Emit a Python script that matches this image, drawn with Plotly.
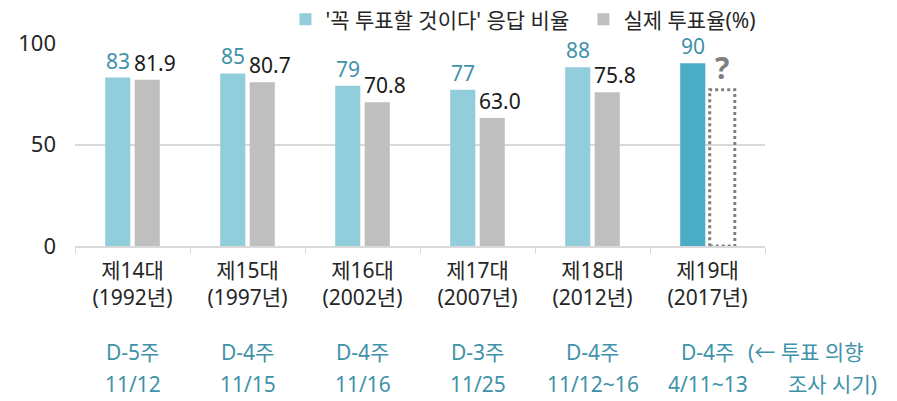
import plotly.graph_objects as go

# Data
elections = ["제14대<br>(1992년)", "제15대<br>(1997년)", "제16대<br>(2002년)",
             "제17대<br>(2007년)", "제18대<br>(2012년)", "제19대<br>(2017년)"]
survey_week = ["D-5주", "D-4주", "D-4주", "D-3주", "D-4주", "D-4주"]
survey_date = ["11/12", "11/15", "11/16", "11/25", "11/12~16", "4/11~13"]
will_vote = [83, 85, 79, 77, 88, 90]
turnout = [81.9, 80.7, 70.8, 63.0, 75.8, None]
turnout_placeholder = 77  # dotted "?" bar for 19대

BLUE = "#92CDDC"
BLUE_DARK = "#4BACC6"
GRAY = "#BFBFBF"
TEAL = "#3F92A9"
FONT = "Noto Sans, Noto Sans CJK KR"

BARGAP = 0.487
GROUPGAP = 0.15

fig = go.Figure()
fig.add_trace(go.Bar(
    x=elections, y=will_vote, name="'꼭 투표할 것이다' 응답 비율",
    marker=dict(color=[BLUE] * 5 + [BLUE_DARK], line_width=0),
))
fig.add_trace(go.Bar(
    x=elections, y=turnout, name="실제 투표율(%)",
    marker=dict(color=GRAY, line_width=0),
))

# bar geometry in category units
slot = (1 - BARGAP) / 2
bar_w = slot * (1 - GROUPGAP)

annotations = []
for i, v in enumerate(will_vote):
    annotations.append(dict(
        x=i - slot / 2, y=v, xref="x", yref="y", text=str(v),
        showarrow=False, yanchor="bottom", yshift=1,
        font=dict(color=TEAL, size=21, family=FONT)))
for i, v in enumerate(turnout):
    if v is None:
        continue
    annotations.append(dict(
        x=i + slot / 2 - bar_w / 2, y=v, xref="x", yref="y", text=f"{v:.1f}",
        showarrow=False, xanchor="left", yanchor="bottom", yshift=1, xshift=-3,
        font=dict(color="#1a1a1a", size=21, family=FONT)))

# survey timing labels under the axis
for i, (w, d) in enumerate(zip(survey_week, survey_date)):
    annotations.append(dict(
        x=i, y=-0.522, xref="x", yref="paper", text=w, showarrow=False,
        yanchor="middle", font=dict(color=TEAL, size=21, family=FONT)))
    annotations.append(dict(
        x=i, y=-0.68, xref="x", yref="paper", text=d, showarrow=False,
        yanchor="middle", font=dict(color=TEAL, size=21, family=FONT)))
annotations.append(dict(
    x=0.972, y=-0.522, xref="paper", yref="paper", text="(← 투표 의향", showarrow=False,
    xanchor="left", yanchor="middle", font=dict(color=TEAL, size=21, family=FONT)))
annotations.append(dict(
    x=1.03, y=-0.68, xref="paper", yref="paper", text="조사 시기)", showarrow=False,
    xanchor="left", yanchor="middle", font=dict(color=TEAL, size=21, family=FONT)))

# "?" above the dotted placeholder bar
annotations.append(dict(
    x=5 + slot / 2, y=turnout_placeholder, xref="x", yref="y", text="<b>?</b>",
    showarrow=False, yanchor="bottom", yshift=0,
    font=dict(color="#7F7F7F", size=30, family=FONT)))

fig.add_shape(
    type="rect", xref="x", yref="y",
    x0=5 + slot / 2 - bar_w / 2, x1=5 + slot / 2 + bar_w / 2,
    y0=0, y1=turnout_placeholder,
    line=dict(color="#808080", width=3, dash="dot"), fillcolor="rgba(0,0,0,0)")

fig.update_layout(
    width=897, height=401,
    margin=dict(l=75, r=132, t=43, b=155, autoexpand=False),
    plot_bgcolor="white", paper_bgcolor="white",
    barmode="group", bargap=BARGAP, bargroupgap=GROUPGAP,
    font=dict(family=FONT, size=21, color="#262626"),
    showlegend=True,
    legend=dict(orientation="h", x=0.305, xanchor="left", y=1.115, yanchor="middle",
                font=dict(size=21), itemclick=False, traceorder="normal",
                entrywidth=253, entrywidthmode="pixels", itemwidth=30),
    annotations=annotations,
)
fig.update_xaxes(
    type="category", range=[-0.5, 5.5], tickson="boundaries",
    ticks="outside", ticklen=6, tickcolor="#D9D9D9",
    showline=True, linecolor="#D9D9D9", linewidth=1.5,
    ticklabelstandoff=5,
    tickfont=dict(size=21, color="#262626"), showgrid=False,
)
fig.update_yaxes(
    range=[0, 100], tickvals=[0, 50, 100], showgrid=True, gridcolor="#D9D9D9",
    gridwidth=1.5, zeroline=False, ticklabelstandoff=18,
    tickfont=dict(size=22, color="#262626"),
)

fig.write_html("out.html", config={"displayModeBar": False},
               post_script="document.body.style.margin='0';")
